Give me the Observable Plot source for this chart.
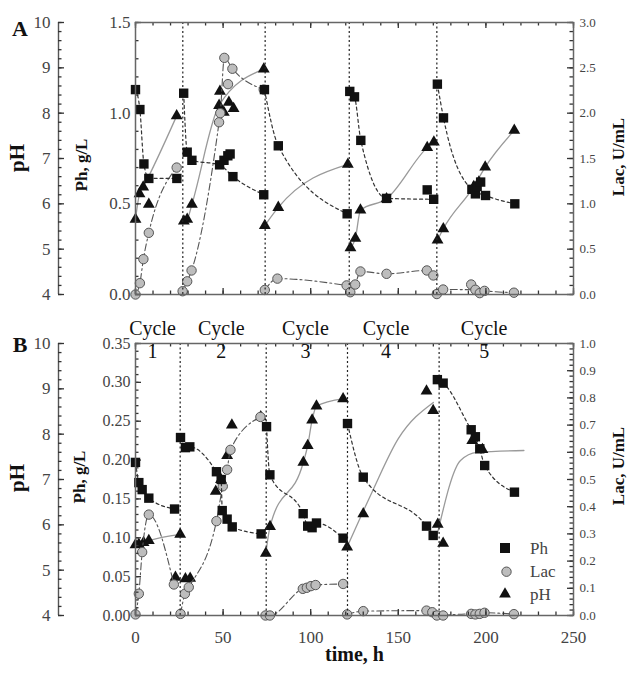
<!DOCTYPE html>
<html><head><meta charset="utf-8">
<script src="https://cdn.jsdelivr.net/npm/d3@7"></script>
<script src="https://cdn.jsdelivr.net/npm/@observablehq/plot@0.6"></script>
<style>
body{margin:0;background:#fff;}
#wrap{position:relative;width:630px;height:678px;font-family:"Liberation Serif",serif;overflow:hidden;background:#fff;}
.t{position:absolute;white-space:nowrap;color:#111;line-height:1;transform:translate(-50%,-50%);}
.b{font-weight:bold;}
.r{transform:translate(-50%,-50%) rotate(-90deg);}
</style></head><body><div id="wrap"></div>
<script>
// ---------- data ----------
const xDomain = [0, 250];
const xMajor = [0, 50, 100, 150, 200, 250];
const xLabels = ["0", "50", "100", "150", "200", "250"];
const pHDomain = [4, 10];
const pHMajor = [4, 5, 6, 7, 8, 9, 10];
const phDomainA = [0, 1.5];
const phMajorA = [0, 0.5, 1.0, 1.5];
const lacDomainA = [0, 3];
const lacMajorA = [0, 0.5, 1.0, 1.5, 2.0, 2.5, 3.0];
const phDomainB = [0, 0.35];
const phMajorB = [0, 0.05, 0.10, 0.15, 0.20, 0.25, 0.30, 0.35];
const lacDomainB = [0, 1];
const lacMajorB = [0, 0.1, 0.2, 0.3, 0.4, 0.5, 0.6, 0.7, 0.8, 0.9, 1.0];

const cycleBoundsA = [27, 74, 122, 172];
const cycleBoundsB = [25.5, 74.6, 121, 173.3];
const cycleLabelT = [9.7, 49, 97, 143, 199];
const cycleNums = ["1", "2", "3", "4", "5"];

// [time h, value, cycle (null = point not on the fitted line)]
const phGL_A = [
  [0,1.13,1],[2.5,1.02,1],[4.8,0.72,1],[7.6,0.64,1],[23.6,0.64,1],
  [27.5,1.11,2],[29.5,0.785,2],[32.2,0.74,2],[48,0.715,2],[50.5,0.74,null],[52.7,0.765,null],[54,0.775,null],[55.6,0.65,2],[73.2,0.55,2],
  [73.6,1.13,3],[81.5,0.82,3],[120.8,0.445,3],
  [122.3,1.12,4],[125,1.09,4],[128.6,0.85,4],[143.3,0.53,4],[166.5,0.577,null],[170.2,0.525,4],
  [172.3,1.16,5],[175.8,0.974,5],[192,0.58,5],[194,0.555,null],[195,0.596,null],[197,0.62,null],[199.8,0.546,5],[216.5,0.5,5]
];
const pH_A = [
  [0,5.66,1],[2.3,6.22,1],[4.4,6.37,1],[7.6,5.99,null],[23.5,7.94,1],
  [27.6,5.62,2],[29.5,5.66,2],[32.2,5.99,2],[47.7,8.17,2],[48.2,8.48,null],[50.4,8.02,null],[53.3,8.24,null],[56,8.1,null],[73.2,8.97,2],
  [73.8,5.52,3],[81.5,5.92,3],[121.2,6.87,3],
  [122.7,5.03,4],[125.5,5.24,4],[128.4,5.86,4],[143.3,6.11,4],[166.5,7.24,4],[170.3,7.36,4],
  [172.4,5.2,5],[175.7,5.45,5],[193.1,6.38,5],[196,6.48,null],[199.6,6.81,5],[216.2,7.62,5]
];
const lac_A = [
  [0,0,1],[2.5,0.125,1],[4.5,0.39,1],[7.6,0.68,1],[23.5,1.4,1],
  [26.9,0.036,2],[29.5,0.145,2],[32,0.265,2],[47.7,1.9,2],[48.4,2.0,2],[50.7,2.61,2],[52.8,2.32,null],[55.3,2.49,2],[73.2,2.26,2],
  [73.8,0.05,3],[81,0.175,3],[120.5,0.1,3],
  [122.6,0.025,4],[125.4,0.11,4],[128.4,0.254,4],[143.3,0.228,4],[166.3,0.265,4],[170,0.21,4],
  [172,0.005,5],[175.6,0.055,5],[191.6,0.11,null],[194,0.052,5],[196.5,0.015,null],[199.2,0.04,5],[216,0.02,5]
];
const phGL_B = [
  [0,0.197,1],[1.9,0.171,1],[3.8,0.162,1],[7.6,0.151,1],[22.3,0.137,1],
  [25.7,0.229,2],[28.5,0.216,2],[31,0.217,2],[46.2,0.185,2],[48.9,0.175,2],[49.5,0.135,2],[52.3,0.124,2],[55.2,0.114,2],[71.7,0.105,2],
  [74.8,0.243,3],[76.7,0.181,3],[95.7,0.131,3],[98.3,0.115,3],[100.8,0.113,3],[103.3,0.119,3],[118.5,0.0995,3],
  [121,0.247,4],[130,0.178,4],[166.1,0.115,4],[169.9,0.103,4],
  [172.3,0.3035,5],[175.6,0.299,5],[191.6,0.239,5],[194,0.23,5],[196.5,0.2145,5],[199.3,0.193,5],[216.3,0.1587,5]
];
const pH_B = [
  [0,5.56,1],[1.9,5.57,1],[4.6,5.61,1],[7.6,5.65,1],[22.8,4.84,null],[25.5,5.79,1],
  [28.5,4.81,null],[31.2,4.82,null],[45.8,6.74,null],[48.8,7.0,null],[52.3,7.53,null],[55,8.2,null],[71.5,8.38,null],
  [74.4,5.37,3],[76.8,5.96,3],[95.8,7.38,3],[98.3,7.75,3],[100.8,8.31,3],[103.3,8.62,3],[118.5,8.78,3],
  [120.8,5.51,null],[130,6.24,null],[166.1,8.95,null],[169.9,8.52,null],
  [172.5,6.01,null],[175.6,5.59,null],[192.2,7.86,null],[198,7.66,null]
];
// fitted pH curves of cycles 4 and 5 (panel B)
const pHFit_B = [
  [120.8,5.51,4],[135,6.72,4],[150,7.9,4],[170,8.7,4],
  [172.3,5.8,5],[185.5,7.42,5],[195,7.6,5],[221.7,7.64,5]
];
const lac_B = [
  [0,0.004,1],[1.9,0.08,1],[3.8,0.233,1],[7.6,0.371,1],[21.9,0.114,1],
  [25.7,0.006,2],[28.2,0.08,2],[30.4,0.104,2],[46.2,0.347,2],[49.8,0.475,2],[52.3,0.536,2],[54.2,0.609,2],[71.3,0.73,2],
  [74.2,0,3],[76.7,0,3],[95.5,0.098,3],[97.8,0.102,3],[100.1,0.108,3],[102.8,0.112,3],[118.5,0.116,3],
  [120.8,0.004,4],[130,0.016,4],[166.1,0.018,4],[169.4,0.012,4],[172,0,4],
  [175.6,0,5],[191.6,0.006,5],[194,0.004,5],[196.5,0.006,5],[199.2,0.01,5],[216,0.005,5]
];

// ---------- helpers ----------
const wrap = document.getElementById("wrap");
const FONT = "'Liberation Serif', 'Times New Roman', serif";
const AX = "#333";
const W = 630, ML = 135, MR = 57;
const kx = (xDomain[1] - xDomain[0]) / (W - ML - MR); // data units per pixel along x
const minor = (d, step) => d3.range(d[0], d[1] + step / 2, step);

function labelsY(vals, anchor, fmt, size, pad, dx = 0) {
  return Plot.axisY(vals, {anchor, tickSize: 0, tickPadding: pad, tickFormat: fmt, fontSize: size,
    fill: "#444", stroke: "none", label: null, dx});
}
function layer(top, height, mt, mb, yDomain, makeMarks) {
  const ky = (yDomain[1] - yDomain[0]) / (height - mt - mb);
  const sw = 1.3;
  // inward tick helpers (lengths in pixels, converted through the scales' units)
  const T = {
    left: (vals, len, off = 0) => Plot.ruleY(vals, {y: d => d, x1: () => xDomain[0] + off * kx, x2: () => xDomain[0] + (off + len) * kx, stroke: AX, strokeWidth: sw}),
    right: (vals, len) => Plot.ruleY(vals, {y: d => d, x1: () => xDomain[1], x2: () => xDomain[1] - len * kx, stroke: AX, strokeWidth: sw}),
    bottom: (vals, len) => Plot.ruleX(vals, {x: d => d, y1: () => yDomain[0], y2: () => yDomain[0] + len * ky, stroke: AX, strokeWidth: sw}),
    top: (vals, len) => Plot.ruleX(vals, {x: d => d, y1: () => yDomain[1], y2: () => yDomain[1] - len * ky, stroke: AX, strokeWidth: sw})
  };
  const p = Plot.plot({
    width: W, height, marginLeft: ML, marginRight: MR, marginTop: mt, marginBottom: mb,
    x: {domain: xDomain, axis: null}, y: {domain: yDomain, axis: null},
    style: {background: "transparent", fontFamily: FONT, overflow: "visible", color: "#444"},
    marks: makeMarks(T)
  });
  p.style.position = "absolute"; p.style.left = "0px"; p.style.top = top + "px";
  wrap.appendChild(p);
}
const X = d => d[0], Y = d => d[1], Z = d => d[2];
const onLine = arr => arr.filter(d => d[2] != null).sort((a, b) => a[2] - b[2] || a[0] - b[0]);

function panel(top, height, mt, mb, cfg) {
  // pH layer (outer left axis)
  layer(top, height, mt, mb, pHDomain, T => [
    Plot.ruleX([xDomain[0]], {dx: -77, stroke: "#555", strokeWidth: 1.4}),
    T.left(pHMajor, 6, -77),
    T.left(minor(pHDomain, 0.2), 3.5, -77),
    labelsY(pHMajor, "left", d3.format("d"), 17, 8, -77),
    Plot.line(cfg.pHLine, {x: X, y: Y, z: Z, curve: "monotone-x", stroke: "#9a9a9a", strokeWidth: 1.3}),
    Plot.dot(cfg.pH, {x: X, y: Y, symbol: "triangle", r: 4.4, fill: "#111"})
  ]);
  // Lac layer (right axis)
  layer(top, height, mt, mb, cfg.lacDomain, T => [
    T.right(cfg.lacMajor, 6),
    T.right(minor(cfg.lacDomain, cfg.lacMinor), 3.5),
    labelsY(cfg.lacMajor, "right", d3.format(".1f"), 13, 6),
    Plot.line(onLine(cfg.lac), {x: X, y: Y, z: Z, curve: "monotone-x", stroke: "#555", strokeWidth: 1.1, strokeDasharray: "7,3,2,3"}),
    Plot.dot(cfg.lac, {x: X, y: Y, r: 4.7, fill: "#bdbdbd", stroke: "#555", strokeWidth: 1})
  ]);
  // Ph layer (inner left axis, frame)
  layer(top, height, mt, mb, cfg.phDomain, T => [
    Plot.ruleX(cfg.bounds, {stroke: "#222", strokeDasharray: "2,2.5", strokeWidth: 1.2}),
    T.bottom(xMajor, 6), T.bottom(minor(xDomain, 10), 3.5),
    T.top(xMajor, 6), T.top(minor(xDomain, 10), 3.5),
    T.left(cfg.phMajor, 6), T.left(minor(cfg.phDomain, cfg.phMinor), 3.5),
    labelsY(cfg.phMajor, "left", d3.format(cfg.phFmt), cfg.phFont, 5),
    Plot.line(onLine(cfg.ph), {x: X, y: Y, z: Z, curve: "monotone-x", stroke: "#333", strokeWidth: 1.2, strokeDasharray: "3,3"}),
    Plot.dot(cfg.ph, {x: X, y: Y, symbol: "square", r: 5.3, fill: "#111"}),
    Plot.frame({stroke: "#666", strokeWidth: 1.5}),
    ...(cfg.extra || [])
  ]);
}

// ---------- panel A ----------
panel(0, 320, 22, 26, {
  pH: pH_A, pHLine: onLine(pH_A),
  lac: lac_A, lacDomain: lacDomainA, lacMajor: lacMajorA, lacMinor: 0.1,
  ph: phGL_A, phDomain: phDomainA, phMajor: phMajorA, phMinor: 0.1, phFmt: ".1f", phFont: 17,
  bounds: cycleBoundsA
});

// ---------- panel B ----------
panel(300, 378, 43, 63, {
  pH: pH_B, pHLine: onLine(pH_B).concat(onLine(pHFit_B)),
  lac: lac_B, lacDomain: lacDomainB, lacMajor: lacMajorB, lacMinor: 0.02,
  ph: phGL_B, phDomain: phDomainB, phMajor: phMajorB, phMinor: 0.01, phFmt: ".2f", phFont: 16,
  bounds: cycleBoundsB,
  extra: [
    Plot.axisX(xMajor, {anchor: "bottom", tickSize: 0, tickPadding: 15, tickFormat: (d, i) => xLabels[i],
      fontSize: 17, fill: "#444", stroke: "none", label: null}),
    Plot.text(["time, h"], {frameAnchor: "bottom", dy: 45, fontSize: 20, fontWeight: "bold", fill: "#111"}),
    Plot.text(cycleLabelT, {x: d => d, frameAnchor: "top", dy: -23, text: () => "Cycle", fontSize: 20, fill: "#111"}),
    Plot.text(cycleLabelT, {x: d => d, frameAnchor: "top", dy: 0, text: (d, i) => cycleNums[i], fontSize: 20, fill: "#111"})
  ]
});

// ---------- titles ----------
const titles = [
  ["A", 20, 28.5, 22, ""], ["B", 20, 345, 22, ""],
  ["pH", 17, 158, 21, "r"], ["pH", 17, 478, 21, "r"],
  ["Ph, g/L", 81, 165, 17, "r"], ["Ph, g/L", 79, 477, 17, "r"],
  ["Lac, U/mL", 618, 157, 17, "r"], ["Lac, U/mL", 618, 466, 17, "r"]
];
for (const [s, x, y, fs, cls] of titles) {
  const el = document.createElement("div");
  el.className = "t b " + cls;
  el.textContent = s;
  el.style.left = x + "px"; el.style.top = y + "px"; el.style.fontSize = fs + "px";
  wrap.appendChild(el);
}

// ---------- legend ----------
const legendItems = ["Ph", "Lac", "pH"];
const lg = d3.select(wrap).append("svg").attr("width", 90).attr("height", 75)
  .style("position", "absolute").style("left", "493px").style("top", "535px").style("overflow", "visible");
lg.append("rect").attr("x", 7).attr("y", 8).attr("width", 10).attr("height", 10).attr("fill", "#111");
lg.append("circle").attr("cx", 13.5).attr("cy", 36.7).attr("r", 4.7).attr("fill", "#bdbdbd").attr("stroke", "#555");
lg.append("path").attr("d", d3.symbol(d3.symbolTriangle, 60)()).attr("transform", "translate(12,59)").attr("fill", "#111");
legendItems.forEach((s, i) => {
  lg.append("text").attr("x", 37).attr("y", 19 + i * 23).text(s)
    .attr("font-family", FONT).attr("font-size", 17).attr("fill", "#444");
});
</script></body></html>
